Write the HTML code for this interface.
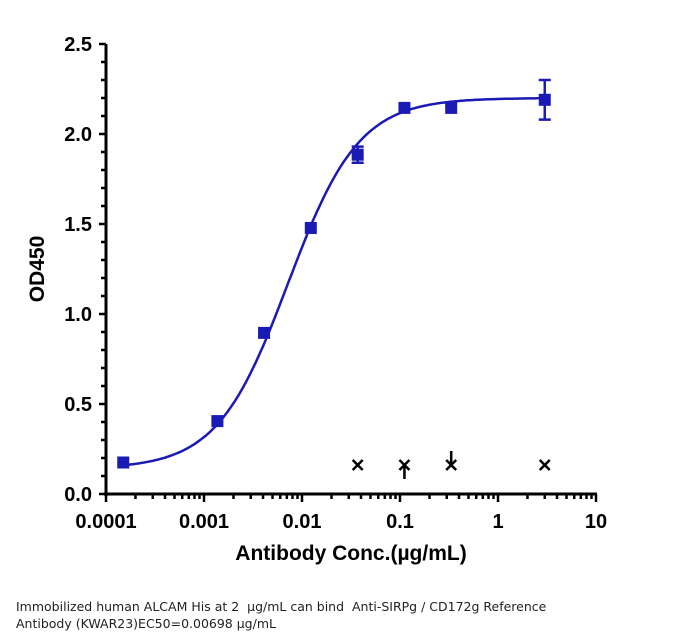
<!DOCTYPE html>
<html><head><meta charset="utf-8"><style>
body{margin:0;background:#fff;width:677px;height:642px;overflow:hidden;font-family:"Liberation Sans",sans-serif}
.cap{position:absolute;left:16px;top:598px;font-size:12.5px;line-height:17px;color:#222;font-family:"DejaVu Sans","Liberation Sans",sans-serif}
</style></head><body>
<svg id="c" width="677" height="642" style="position:absolute;left:0;top:0"></svg>
<div class="cap">Immobilized human ALCAM His at 2 &nbsp;µg/mL can bind &nbsp;Anti-SIRPg / CD172g Reference<br>Antibody (KWAR23)​EC50=0.00698 µg/mL</div>
<script>
const concs=[0.00015,0.00137,0.0041,0.0123,0.037,0.111,0.333,3];
const od=[0.175,0.405,0.895,1.478,1.885,2.145,2.145,2.19];
const errs=[0.01,0.01,0.015,0.01,0.045,0.02,0.02,0.11];
const fitParams=[0.14,2.2,0.0072,1.2];
const excluded=[0.037,0.111,0.333,3];
const yTicks=[0,0.5,1.0,1.5,2.0,2.5];
const xTicks=[0.0001,0.001,0.01,0.1,1,10];
const xLabels=["0.0001","0.001","0.01","0.1","1","10"];
const NS="http://www.w3.org/2000/svg",svg=document.getElementById('c');
const X=v=>106+98*(Math.log10(v)+4), Y=v=>494-180*v;
function el(t,a,p){const e=document.createElementNS(NS,t);for(const k in a)e.setAttribute(k,a[k]);(p||svg).appendChild(e);return e;}
let ya=el('line',{x1:106,y1:Y(2.5),x2:106,y2:496,stroke:'#000','stroke-width':3});

let xa=el('line',{x1:104,y1:494,x2:597,y2:494,stroke:'#000','stroke-width':3});

for(let v=0;v<=2.5001;v+=0.1){const maj=Math.abs(v*2-Math.round(v*2))<1e-6;el('line',{x1:maj?99:101,y1:Y(v),x2:106,y2:Y(v),stroke:'#000','stroke-width':2.5});}
yTicks.forEach(v=>{const t=el('text',{x:92,y:Y(v)+7,'text-anchor':'end','font-size':20,'font-weight':'bold'});t.textContent=v.toFixed(1);
});
for(let d=-4;d<1;d++)for(let m=2;m<10;m++){const x=X(m*Math.pow(10,d));el('line',{x1:x,y1:494,x2:x,y2:499,stroke:'#000','stroke-width':2.5});}
xTicks.forEach((v,i)=>{el('line',{x1:X(v),y1:494,x2:X(v),y2:502,stroke:'#000','stroke-width':2.5});
const t=el('text',{x:X(v),y:528,'text-anchor':'middle','font-size':20,'font-weight':'bold'});t.textContent=xLabels[i];
});
let yt=el('text',{x:0,y:0,transform:'translate(44,269) rotate(-90)','text-anchor':'middle','font-size':21,'font-weight':'bold'});yt.textContent='OD450';

let xt=el('text',{x:351,y:560,'text-anchor':'middle','font-size':21,'font-weight':'bold'});xt.textContent='Antibody Conc.(µg/mL)';

const [b,t,ec,h]=fitParams;let d='';
for(let i=0;i<=300;i++){const lx=Math.log10(0.00015)+i*(Math.log10(3)-Math.log10(0.00015))/300;const v=Math.pow(10,lx);
const y=b+(t-b)/(1+Math.pow(ec/v,h));d+=(i?'L':'M')+X(v).toFixed(1)+','+Y(y).toFixed(1);}
let cv=el('path',{d:d,fill:'none',stroke:'#1a1ab4','stroke-width':2.5});

concs.forEach((c,i)=>{const x=X(c),y=Y(od[i]);
if(errs[i]>0.02){const y1=Y(od[i]+errs[i]),y2=Y(od[i]-errs[i]);
el('path',{d:`M${x},${y1}V${y2}M${x-6},${y1}H${x+6}M${x-6},${y2}H${x+6}`,stroke:'#1a1ab4','stroke-width':2.5,fill:'none'});}
const r=el('rect',{x:x-6,y:y-6,width:12,height:12,fill:'#1a1ab4'});
});
excluded.forEach((c,i)=>{const x=X(c),y=465;
const g=el('path',{d:`M${x-5},${y-5}L${x+5},${y+5}M${x+5},${y-5}L${x-5},${y+5}`+(i==1?`M${x},${y}V${y+14}`:'')+(i==2?`M${x},${y}V${y-14}`:''),stroke:'#000','stroke-width':2.5,fill:'none'});
});
</script>
</body></html>
